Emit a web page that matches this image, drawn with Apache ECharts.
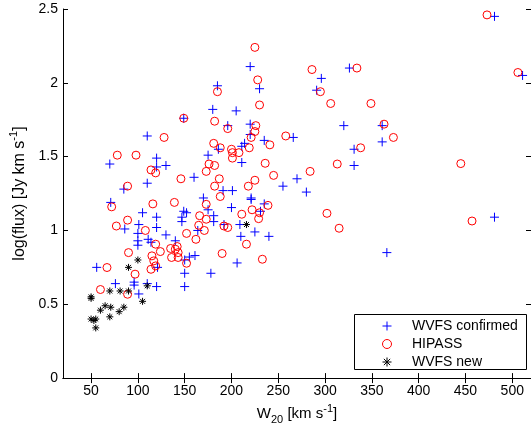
<!DOCTYPE html>
<html><head><meta charset="utf-8">
<script src="https://cdn.jsdelivr.net/npm/echarts@6/dist/echarts.min.js"></script>
<style>html,body{margin:0;padding:0;background:#fff}#c{width:531px;height:430px}</style>
</head><body><div id="c"></div>
<script>
const xTicks = [50,100,150,200,250,300,350,400,450,500];
const yTicks = [0,0.5,1,1.5,2,2.5];
const seriesNames = ['WVFS confirmed','HIPASS','WVFS new'];
const xName = 'W20 [km s-1]';
const yName = 'log(flux) [Jy km s-1]';

const confirmed = [
[110,1.64],[149,1.76],[180,1.82],[220,2.11],[326,2.10],[185,1.98],[230,1.96],[296,2.03],[291,1.95],[205,1.81],[196,1.71],[220,1.72],[220,1.65],[266,1.63],[320,1.71],[211,1.57],[214,1.59],[235,1.61],[361,1.71],[361,1.60],[331,1.55],[481,2.45],[511,2.05],
[70,1.45],[120,1.49],[120,1.43],[130,1.44],[110,1.32],[85,1.28],[160,1.36],[175,1.51],[71,1.19],[105,1.12],[120,1.09],[149,1.13],[152,1.12],[147,1.09],[147,1.06],[86,1.01],[101,1.04],[100,0.98],[120,1.02],[130,0.97],[164,1.00],[170,1.22],[100,0.93],[111,0.94],[114,0.92],[100,0.90],[140,0.93],[150,0.80],[155,0.82],[161,0.83],[56,0.75],[150,0.71],[121,0.75],[76,0.64],[96,0.65],[96,0.63],[101,0.57],[110,0.64],[120,0.62],[150,0.62],[178,0.71],
[186,1.55],[211,1.46],[191,1.27],[201,1.27],[255,1.30],[270,1.35],[331,1.44],[280,1.26],[221,1.22],[221,1.21],[200,1.155],[175,1.14],[235,1.18],[231,1.13],[181,1.10],[181,1.06],[192,1.04],[209,1.04],[225,0.99],[210,0.96],[240,0.96],[206,0.78],[481,1.09],[366,0.85]
];
const hipass = [
[128,1.63],[149,1.76],[181,1.59],[225,2.24],[286,2.09],[334,2.10],[185,1.94],[228,2.02],[295,1.94],[230,1.85],[306,1.86],[349,1.86],[182,1.74],[196,1.69],[226,1.71],[225,1.67],[221,1.63],[258,1.64],[188,1.56],[219,1.56],[241,1.58],[200,1.55],[363,1.72],[338,1.56],[373,1.63],[473,2.46],[506,2.07],
[78,1.51],[98,1.51],[114,1.41],[119,1.39],[89,1.30],[146,1.35],[173,1.40],[176,1.45],[72,1.16],[116,1.18],[139,1.19],[89,1.07],[77,1.03],[108,1.00],[152,0.98],[162,0.94],[165,1.035],[171,1.00],[173,1.076],[166,1.10],[173,1.177],[119,0.907],[90,0.85],[115,0.828],[124,0.857],[135,0.878],[142,0.891],[140,0.873],[143,0.85],[136,0.817],[143,0.817],[152,0.778],[119,0.76],[114,0.737],[67,0.749],[97,0.704],[117,0.794],[89,0.568],[60,0.60],
[201,1.527],[208,1.527],[201,1.49],[182,1.44],[236,1.455],[245,1.373],[187,1.35],[182,1.30],[188,1.23],[218,1.30],[225,1.34],[284,1.40],[313,1.45],[239,1.17],[222,1.14],[211,1.11],[230,1.12],[229,1.08],[192,1.03],[196,1.02],[216,0.907],[190,0.844],[233,0.805],[302,1.116],[315,1.015],[445,1.453],[457,1.064]
];
const newSources = [
[100,0.80],[90,0.75],[90,0.59],[70,0.59],[81,0.59],[50,0.55],[50,0.54],[110,0.625],[105,0.52],[65,0.49],[71,0.48],[60,0.46],[85,0.48],[80,0.45],[50,0.40],[55,0.40],[53,0.39],[70,0.415],[55,0.34],[216,1.04]
];

const FONT = "'Liberation Sans', Arial, Helvetica, sans-serif";
const plusPath = 'path://M0,5L10,5M5,0L5,10';
const starPath = 'path://M0,5L10,5M5,0L5,10M1.5,1.5L8.5,8.5M1.5,8.5L8.5,1.5';

function richName(s){
  if (s.startsWith('W20')) return '{n|W}{sub|20}{n| [km s}{sup|-1}{n|]}';
  return '{n|log(flux) [Jy km s}{sup|-1}{n|]}';
}
function richStyle(fs){
  return {
    n:{fontSize:fs, fontFamily:FONT, color:'#000', lineHeight:22},
    sub:{fontSize:11, fontFamily:FONT, color:'#000', verticalAlign:'bottom', lineHeight:12},
    sup:{fontSize:11, fontFamily:FONT, color:'#000', verticalAlign:'top', lineHeight:12}
  };
}

const chart = echarts.init(document.getElementById('c'), null, {renderer:'canvas'});
const axisLine = {show:true, lineStyle:{color:'#000', width:1}};
chart.setOption({
  animation:false,
  backgroundColor:'#fff',
  textStyle:{fontFamily:FONT},
  grid:{left:63, top:9, width:469, height:370, containLabel:false},
  xAxis:[{
    type:'value', min:20, max:520, position:'bottom',
    axisLine:axisLine,
    axisTick:{show:true, inside:true, length:5, customValues:xTicks, lineStyle:{color:'#000'}},
    axisLabel:{customValues:xTicks, color:'#000', fontSize:14, fontFamily:FONT, margin:6},
    splitLine:{show:false},
    name:richName(xName), nameLocation:'middle', nameGap:21,
    nameTextStyle:{rich:richStyle(15)}
  },{
    type:'value', min:20, max:520, position:'top',
    axisLine:axisLine,
    axisTick:{show:true, inside:true, length:5, customValues:xTicks, lineStyle:{color:'#000'}},
    axisLabel:{show:false}, splitLine:{show:false}
  }],
  yAxis:[{
    type:'value', min:0, max:2.5, interval:0.5, position:'left',
    axisLine:axisLine,
    axisTick:{show:true, inside:true, length:5, lineStyle:{color:'#000'}},
    axisLabel:{color:'#000', fontSize:14, fontFamily:FONT, margin:5},
    splitLine:{show:false},
    name:richName(yName), nameLocation:'middle', nameGap:24, nameRotate:90,
    nameTextStyle:{rich:richStyle(16)}
  },{
    type:'value', min:0, max:2.5, interval:0.5, position:'right',
    axisLine:axisLine,
    axisTick:{show:true, inside:true, length:5, lineStyle:{color:'#000'}},
    axisLabel:{show:false}, splitLine:{show:false}
  }],
  legend:{
    orient:'vertical', left:382, top:318, padding:0, itemGap:2,
    itemWidth:40, itemHeight:9, z:10,
    data:seriesNames,
    itemStyle:{borderWidth:1},
    textStyle:{fontSize:14, color:'#000', fontFamily:FONT, lineHeight:16}
  },
  graphic:[{
    type:'rect', z:1,
    shape:{x:354.5, y:314.5, width:172, height:55},
    style:{fill:'#fff', stroke:'#000', lineWidth:1}
  }],
  series:[{
    name:seriesNames[0], type:'scatter', data:confirmed,
    symbol:plusPath, symbolSize:9,
    itemStyle:{color:'rgba(0,0,0,0)', borderColor:'#0000ff', borderWidth:1, opacity:1},
    z:3
  },{
    name:seriesNames[1], type:'scatter', data:hipass,
    symbol:'circle', symbolSize:8,
    itemStyle:{color:'rgba(0,0,0,0)', borderColor:'#ff0000', borderWidth:1, opacity:1},
    z:4
  },{
    name:seriesNames[2], type:'scatter', data:newSources,
    symbol:starPath, symbolSize:7,
    itemStyle:{color:'rgba(0,0,0,0)', borderColor:'#000000', borderWidth:1, opacity:1},
    z:5
  }]
});
</script></body></html>
